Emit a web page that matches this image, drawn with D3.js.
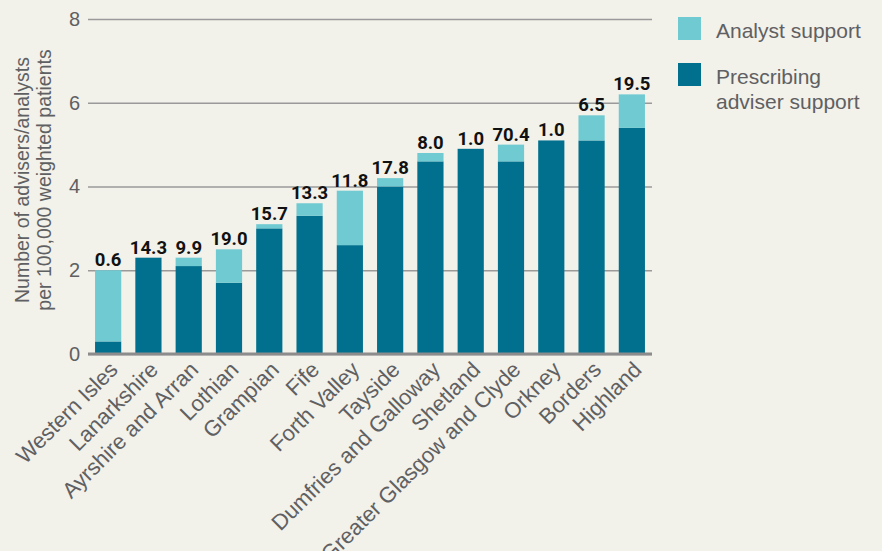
<!DOCTYPE html>
<html>
<head>
<meta charset="utf-8">
<script src="https://cdn.jsdelivr.net/npm/d3@7"></script>
<style>
  body { margin: 0; background: #f2f1ea; }
  svg { display: block; font-family: "Liberation Sans", Arial, sans-serif; }
  .tick text { fill: #5f6062; font-size: 20px; }
  .value { font-family: Roboto, "Liberation Sans", sans-serif; font-weight: bold; font-size: 18.5px; fill: #111; }
</style>
</head>
<body>
<div id="chart"></div>
<script>
// chart values
const regions = ["Western Isles", "Lanarkshire", "Ayrshire and Arran", "Lothian", "Grampian", "Fife",
  "Forth Valley", "Tayside", "Dumfries and Galloway", "Shetland", "Greater Glasgow and Clyde",
  "Orkney", "Borders", "Highland"];
const adviser = [0.3, 2.3, 2.1, 1.7, 3.0, 3.3, 2.6, 4.0, 4.6, 4.9, 4.6, 5.1, 5.1, 5.4];
const analyst = [1.7, 0, 0.2, 0.8, 0.1, 0.3, 1.3, 0.2, 0.2, 0, 0.4, 0, 0.6, 0.8];
const labels = ["0.6", "14.3", "9.9", "19.0", "15.7", "13.3", "11.8", "17.8", "8.0", "1.0", "70.4", "1.0", "6.5", "19.5"];
const yTicks = [0, 2, 4, 6, 8];

const width = 882, height = 551,
    margin = ({ top: 19, right: 230, bottom: 197, left: 88 });

const colors = { adviser: "#00708e", analyst: "#70cad2" };

const svg = d3.select("#chart")
  .append("svg")
  .attr("width", width)
  .attr("height", height)
  .attr("viewBox", [0, 0, width, height]);

const data = regions.map((r, i) => ({ region: r, adviser: adviser[i], analyst: analyst[i], label: labels[i] }));

let x = d3.scaleBand()
  .domain(regions)
  .range([margin.left, width - margin.right])
  .paddingInner(0.35)
  .paddingOuter(0.175);

let y = d3.scaleLinear()
  .domain([0, 8])
  .range([height - margin.bottom, margin.top]);

// gridlines + y labels
const yAxis = svg.append("g")
  .attr("transform", `translate(${margin.left},0)`)
  .call(d3.axisLeft(y).tickValues(yTicks).tickSize(-(width - margin.left - margin.right)).tickPadding(8));
yAxis.select(".domain").remove();
yAxis.selectAll(".tick line").attr("stroke", "#9a9a9a").attr("stroke-width", 1.5);

// stacked bars
const stack = d3.stack().keys(["adviser", "analyst"])(data);
svg.append("g")
  .selectAll("g")
  .data(stack)
  .join("g")
    .attr("fill", d => colors[d.key])
  .selectAll("rect")
  .data(d => d)
  .join("rect")
    .attr("x", d => x(d.data.region))
    .attr("width", x.bandwidth())
    .attr("y", d => y(d[1]))
    .attr("height", d => y(d[0]) - y(d[1]));

// baseline
svg.append("line")
  .attr("x1", margin.left).attr("x2", width - margin.right)
  .attr("y1", y(0)).attr("y2", y(0))
  .attr("stroke", "#8c8c8c").attr("stroke-width", 3);

// value labels above bars
svg.append("g")
  .selectAll("text")
  .data(data)
  .join("text")
    .attr("class", "value")
    .attr("text-anchor", "middle")
    .attr("x", d => x(d.region) + x.bandwidth() / 2)
    .attr("y", d => y(d.adviser + d.analyst) - 4)
    .text(d => d.label);

// x labels, rotated
svg.append("g")
  .selectAll("text")
  .data(regions)
  .join("text")
    .attr("text-anchor", "end")
    .attr("fill", "#5f6062")
    .attr("font-size", 22)
    .attr("transform", d => `translate(${x(d) + x.bandwidth() / 2 + 11},${y(0) + 17}) rotate(-45)`)
    .text(d => d);

// y title
const yt = svg.append("text")
  .attr("transform", `translate(0,180) rotate(-90)`)
  .attr("text-anchor", "middle")
  .attr("fill", "#5f6062")
  .attr("font-size", 19.5);
yt.append("tspan").attr("x", 0).attr("y", 29).text("Number of advisers/analysts");
yt.append("tspan").attr("x", 0).attr("y", 51).text("per 100,000 weighted patients");

// legend
const legend = [
  { key: "analyst", lines: ["Analyst support"], y: 17 },
  { key: "adviser", lines: ["Prescribing", "adviser support"], y: 63 }
];
const lg = svg.append("g").selectAll("g").data(legend).join("g")
  .attr("transform", d => `translate(678,${d.y})`);
lg.append("rect").attr("width", 23).attr("height", 23).attr("fill", d => colors[d.key]);
lg.append("text")
  .attr("fill", "#5f6062")
  .attr("font-size", 21)
  .selectAll("tspan")
  .data(d => d.lines)
  .join("tspan")
    .attr("x", 38)
    .attr("y", (d, i) => 21 + i * 25)
    .text(d => d);
</script>
</body>
</html>
